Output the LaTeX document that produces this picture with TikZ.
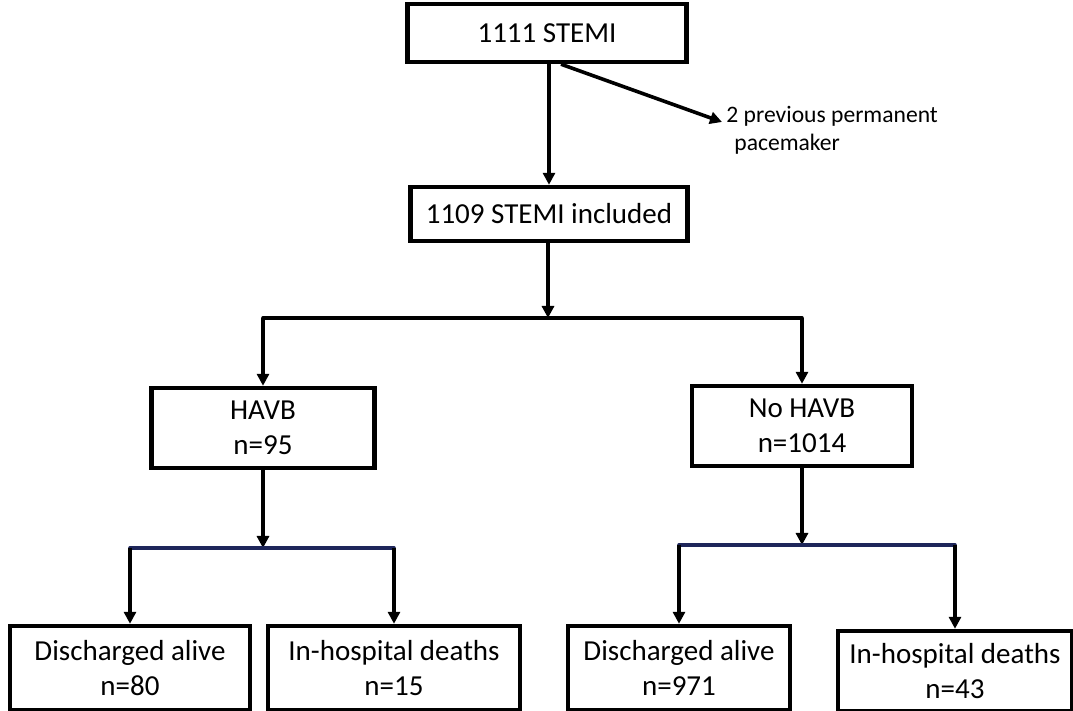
\documentclass[tikz,border=0pt]{standalone}
\usepackage{fontspec}
\setmainfont{Carlito}
\usetikzlibrary{arrows.meta}
\definecolor{navyline}{RGB}{30,38,90}
\begin{document}
\begin{tikzpicture}[x=0.5pt,y=-0.5pt,
  box/.style={draw=black, line width=2.2pt, fill=white, inner sep=0pt, align=center,
    font=\fontsize{14.5}{17.5}\selectfont},
  conn/.style={line width=1.8pt, line cap=round},
  arr/.style={line width=1.8pt, -{Triangle[length=6pt,width=6pt]}},
  note/.style={align=left, inner sep=0pt, font=\fontsize{11.8}{14}\selectfont}]
\useasboundingbox (0,0) rectangle (1073,711);
% boxes
\node[box, minimum width=139.5pt, minimum height=29pt] (top) at (547,33) {1111 STEMI};
\node[box, minimum width=138.5pt, minimum height=27pt] (incl) at (549,214) {1109 STEMI included};
\node[note, anchor=north west] (pm) at (726,106) {2 previous permanent\\\hspace{4pt}pacemaker};
\node[box, minimum width=111.5pt, minimum height=40pt] (havb) at (263,428) {HAVB\\n=95};
\node[box, minimum width=110pt, minimum height=40pt] (nohavb) at (802,426) {No HAVB\\n=1014};
\node[box, minimum width=120pt, minimum height=42pt] (da1) at (130,668) {Discharged alive\\n=80};
\node[box, minimum width=126pt, minimum height=42pt] (ihd1) at (394,668) {In-hospital deaths\\n=15};
\node[box, minimum width=111pt, minimum height=42pt] (da2) at (679,668) {Discharged alive\\n=971};
\node[box, minimum width=117pt, minimum height=40pt] (ihd2) at (955,671) {In-hospital deaths\\n=43};
% junction coordinates
\coordinate (j1) at (548,318);
\coordinate (j2) at (263,548);
\coordinate (j3) at (802,545);
\coordinate (tipm) at (722,122);
% connectors
\draw[arr] (top.south -| incl.north) -- (incl.north);
\draw[arr] ([xshift=7pt]top.south) -- (tipm);
\draw[arr] (incl.south -| j1) -- (j1);
\draw[conn] (havb.north |- j1) -- (nohavb.north |- j1);
\draw[arr] (havb.north |- j1) -- (havb.north);
\draw[arr] (nohavb.north |- j1) -- (nohavb.north);
\draw[arr] (havb.south) -- (j2);
\draw[conn, navyline] (da1.north |- j2) -- (ihd1.north |- j2);
\draw[arr] (da1.north |- j2) -- (da1.north);
\draw[arr] (ihd1.north |- j2) -- (ihd1.north);
\draw[arr] (nohavb.south) -- (j3);
\draw[conn, navyline] (da2.north |- j3) -- (ihd2.north |- j3);
\draw[arr] (da2.north |- j3) -- (da2.north);
\draw[arr] (ihd2.north |- j3) -- (ihd2.north);
\end{tikzpicture}
\end{document}
